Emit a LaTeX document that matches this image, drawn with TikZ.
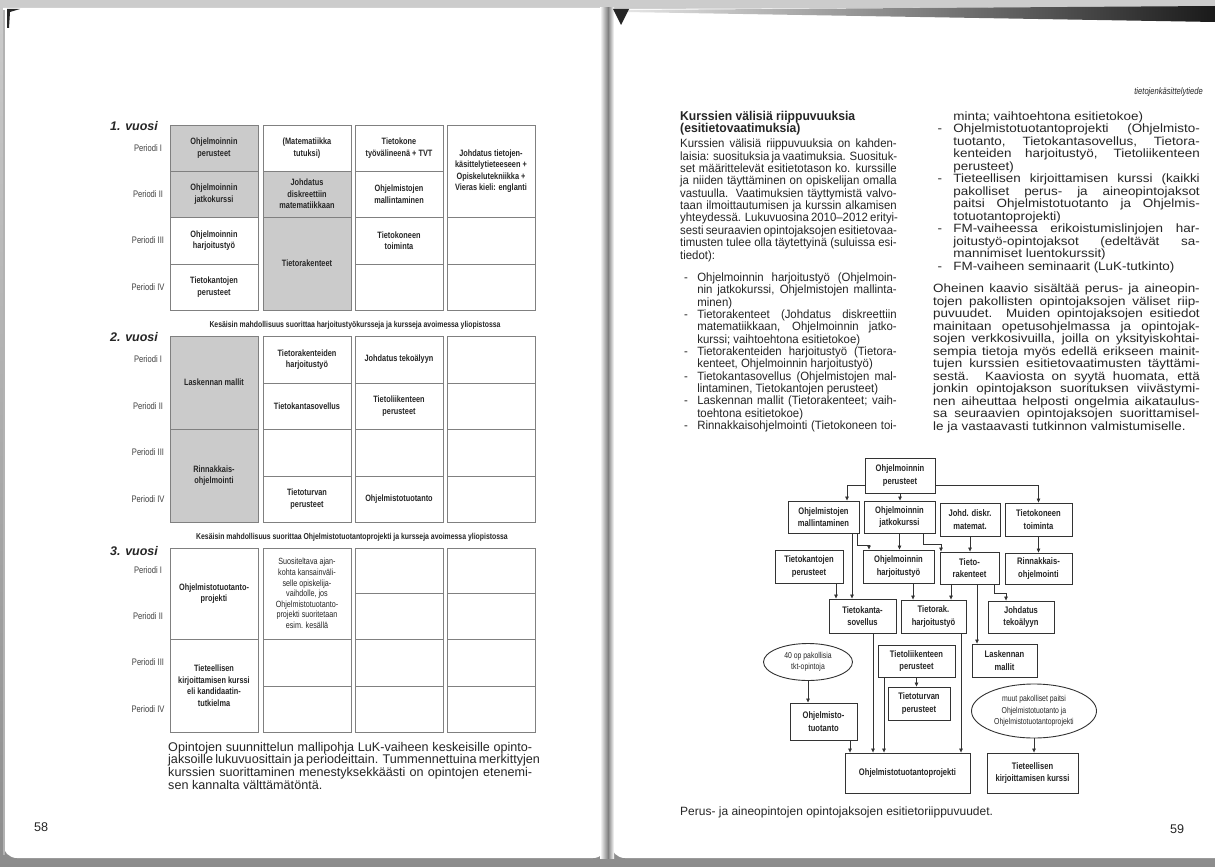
\documentclass[tikz,border=0pt]{standalone}
\usepackage{fontspec}
\setmainfont{Liberation Sans}
\newfontfamily\nrw[FakeStretch=0.8]{Liberation Sans}
\usetikzlibrary{arrows.meta,shapes.geometric}
\definecolor{cellgray}{HTML}{CBCBCB}
\definecolor{ink}{HTML}{262626}
\newlength\xbi \setlength\xbi{18pt}
\newcommand\xJ[1]{\noindent\makebox[\linewidth][s]{#1}\par}
\newcommand\xL[1]{\noindent\makebox[\linewidth][l]{#1}\par}
\newcommand\xBJ[1]{\noindent\makebox[\xbi][l]{\hspace{4pt}-}\makebox[\dimexpr\linewidth-\xbi\relax][s]{#1}\par}
\newcommand\xBL[1]{\noindent\makebox[\xbi][l]{\hspace{4pt}-}\makebox[\dimexpr\linewidth-\xbi\relax][l]{#1}\par}
\newcommand\xIJ[1]{\noindent\hspace*{\xbi}\makebox[\dimexpr\linewidth-\xbi\relax][s]{#1}\par}
\newcommand\xIL[1]{\noindent\hspace*{\xbi}\makebox[\dimexpr\linewidth-\xbi\relax][l]{#1}\par}
\newcommand\xtc[7][]{\node[tcell, fill=#6, minimum height={(#5-#4)*1pt}, #1] (#2) at (#3,{(#4+#5)/2}) {#7};}
\newcommand\xper[3]{\node[perst] (#1) at (148,#2) {Periodi #3};}
\newcommand\xfb[6]{\node[fbox, minimum width=#4pt, minimum height=#5pt] (#1) at (#2,#3) {#6};}
\begin{document}
\begin{tikzpicture}[x=1pt,y=-1pt,
 tcell/.style={draw=black!50, line width=0.7pt, minimum width=88pt, inner sep=1pt, align=center, text=ink, font=\nrw\bfseries\fontsize{9.2}{11.5}\selectfont},
 perst/.style={text=black!75, font=\nrw\fontsize{9.5}{11}\selectfont, inner sep=0},
 yearst/.style={anchor=base west, inner sep=0, text=ink, font=\bfseries\itshape\fontsize{12.5}{14}\selectfont},
 capst/.style={inner sep=0, text=ink, font=\nrw\bfseries\fontsize{8.6}{10}\selectfont},
 fbox/.style={draw=black!80, line width=0.9pt, fill=white, align=center, inner sep=0, text=ink, font=\nrw\bfseries\fontsize{9.5}{12.5}\selectfont},
 fell/.style={ellipse, draw=black!80, line width=0.9pt, fill=white, align=center, inner sep=0, text=ink, font=\nrw\fontsize{8.6}{11.5}\selectfont},
 arr/.style={draw=black!80, line width=0.7pt, -{Triangle[length=4pt,width=3.5pt]}},
 txt/.style={anchor=base west, inner sep=0, text=ink},
]
\useasboundingbox (0,0) rectangle (1215,867);
% ---------- scan background ----------
\shade[top color=black!20, bottom color=black!45] (0,0) rectangle (1215,867);
\fill[white] (3,8) -- (607,8) {[rounded corners=14pt] -- (607,858) -- (3,858)} -- cycle;
\fill[white] (611,9) -- (1215,7) -- (1215,858) {[rounded corners=14pt] -- (611,858)} -- cycle;
\draw[black!30, line width=1.5pt] (4,10) -- (4,855);
\shade[left color=white, right color=black!50] (600,8) rectangle (608,858);
\shade[left color=black!50, right color=white] (608,8) rectangle (614,858);
\shade[left color=black!10, right color=black!90] (625,10) -- (1215,6) -- (1215,22) -- (625,12) -- cycle;
\fill[black!85] (7,9) -- (20,9) -- (10,12) -- (9,28) -- (7,28) -- cycle;
\fill[black!85] (613,9) -- (629,9) -- (621,25) -- cycle;
% ---------- left page: table ----------
\node[yearst] (y1) at (110,130) {1. vuosi};
\xper{p11}{148}{I}\xper{p12}{194}{II}\xper{p13}{240.5}{III}\xper{p14}{287}{IV}
\xtc{a11}{214}{125}{171}{cellgray}{Ohjelmoinnin\\perusteet}
\xtc{a12}{214}{171}{217}{cellgray}{Ohjelmoinnin\\jatkokurssi}
\xtc{a13}{214}{217}{264}{white}{Ohjelmoinnin\\harjoitustyö}
\xtc{a14}{214}{264}{310}{white}{Tietokantojen\\perusteet}
\xtc{a21}{307}{125}{171}{white}{(Matematiikka\\tutuksi)}
\xtc{a22}{307}{171}{217}{cellgray}{Johdatus\\diskreettiin\\matematiikkaan}
\xtc{a23}{307}{217}{310}{cellgray}{Tietorakenteet}
\xtc{a31}{399}{125}{171}{white}{Tietokone\\työvälineenä + TVT}
\xtc{a32}{399}{171}{217}{white}{Ohjelmistojen\\mallintaminen}
\xtc{a33}{399}{217}{264}{white}{Tietokoneen\\toiminta}
\xtc{a34}{399}{264}{310}{white}{}
\xtc{a41}{491}{125}{217}{white}{Johdatus tietojen-\\käsittelytieteeseen +\\Opiskelutekniikka +\\Vieras kieli: englanti}
\xtc{a43}{491}{217}{264}{white}{}
\xtc{a44}{491}{264}{310}{white}{}
\node[capst] (cap1) at (355,325) {Kesäisin mahdollisuus suorittaa harjoitustyökursseja ja kursseja avoimessa yliopistossa};
\node[yearst] (y2) at (110,341) {2. vuosi};
\xper{p21}{359.5}{I}\xper{p22}{406}{II}\xper{p23}{452.5}{III}\xper{p24}{499}{IV}
\xtc{b11}{214}{336}{429}{cellgray}{Laskennan mallit}
\xtc{b13}{214}{429}{522}{cellgray}{Rinnakkais-\\ohjelmointi}
\xtc{b21}{307}{336}{383}{white}{Tietorakenteiden\\harjoitustyö}
\xtc{b22}{307}{383}{429}{white}{Tietokantasovellus}
\xtc{b23}{307}{429}{476}{white}{}
\xtc{b24}{307}{476}{522}{white}{Tietoturvan\\perusteet}
\xtc{b31}{399}{336}{383}{white}{Johdatus tekoälyyn}
\xtc{b32}{399}{383}{429}{white}{Tietoliikenteen\\perusteet}
\xtc{b33}{399}{429}{476}{white}{}
\xtc{b34}{399}{476}{522}{white}{Ohjelmistotuotanto}
\xtc{b41}{491}{336}{383}{white}{}
\xtc{b42}{491}{383}{429}{white}{}
\xtc{b43}{491}{429}{476}{white}{}
\xtc{b44}{491}{476}{522}{white}{}
\node[capst] (cap2) at (352,537) {Kesäisin mahdollisuus suorittaa Ohjelmistotuotantoprojekti ja kursseja avoimessa yliopistossa};
\node[yearst] (y3) at (110,555) {3. vuosi};
\xper{p31}{570.5}{I}\xper{p32}{616}{II}\xper{p33}{662.5}{III}\xper{p34}{709}{IV}
\xtc{c11}{214}{548}{639}{white}{Ohjelmistotuotanto-\\projekti}
\xtc{c13}{214}{639}{732}{white}{Tieteellisen\\kirjoittamisen kurssi\\eli kandidaatin-\\tutkielma}
\xtc[font=\nrw\mdseries\fontsize{9}{10.6}\selectfont]{c21}{307}{548}{639}{white}{Suositeltava ajan-\\kohta kansainväli-\\selle opiskelija-\\vaihdolle, jos\\Ohjelmistotuotanto-\\projekti suoritetaan\\esim. kesällä}
\xtc{c23}{307}{639}{686}{white}{}
\xtc{c24}{307}{686}{732}{white}{}
\xtc{c31}{399}{548}{593}{white}{}
\xtc{c32}{399}{593}{639}{white}{}
\xtc{c33}{399}{639}{686}{white}{}
\xtc{c34}{399}{686}{732}{white}{}
\xtc{c41}{491}{548}{593}{white}{}
\xtc{c42}{491}{593}{639}{white}{}
\xtc{c43}{491}{639}{686}{white}{}
\xtc{c44}{491}{686}{732}{white}{}
\node[txt] (lcap) at (168,751) {\parbox[t]{364pt}{\fontsize{12.6}{11.5}\selectfont\setlength\parskip{0pt}%
\xJ{Opintojen suunnittelun mallipohja LuK-vaiheen keskeisille opinto-}
\xJ{jaksoille lukuvuosittain ja periodeittain. Tummennettuina merkittyjen}
\xJ{kurssien suorittaminen menestyksekkäästi on opintojen etenemi-}
\xL{sen kannalta välttämätöntä.}}};
\node[txt, font=\fontsize{12.6}{14}\selectfont] (pn58) at (34,831) {58};
% ---------- right page: text ----------
\node[anchor=base east, inner sep=0, text=ink, font=\nrw\itshape\fontsize{9.5}{11}\selectfont] (hdr) at (1203,94) {tietojenkäsittelytiede};
\node[txt] (lcol) at (680,120) {\scalebox{0.95}[1]{\parbox[t]{228pt}{\fontsize{12}{13}\selectfont\setlength\parskip{0pt}%
\xL{\bfseries\fontsize{12.8}{13}\selectfont Kurssien välisiä riippuvuuksia}
\xL{\bfseries\fontsize{12.8}{13}\selectfont (esitietovaatimuksia)}
\vspace{2.5pt}\fontsize{12}{12.35}\selectfont
\xJ{Kurssien välisiä riippuvuuksia on kahden-}
\xJ{laisia: suosituksia ja vaatimuksia. Suosituk-}
\xJ{set määrittelevät esitietotason ko. kurssille}
\xJ{ja niiden täyttäminen on opiskelijan omalla}
\xJ{vastuulla. Vaatimuksien täyttymistä valvo-}
\xJ{taan ilmoittautumisen ja kurssin alkamisen}
\xJ{yhteydessä. Lukuvuosina 2010–2012 erityi-}
\xJ{sesti seuraavien opintojaksojen esitietovaa-}
\xJ{timusten tulee olla täytettyinä (suluissa esi-}
\xL{tiedot):}
\vspace{10pt}
\xBJ{Ohjelmoinnin harjoitustyö (Ohjelmoin-}
\xIJ{nin jatkokurssi, Ohjelmistojen mallinta-}
\xIL{minen)}
\xBJ{Tietorakenteet (Johdatus diskreettiin}
\xIJ{matematiikkaan, Ohjelmoinnin jatko-}
\xIL{kurssi; vaihtoehtona esitietokoe)}
\xBJ{Tietorakenteiden harjoitustyö (Tietora-}
\xIL{kenteet, Ohjelmoinnin harjoitustyö)}
\xBJ{Tietokantasovellus (Ohjelmistojen mal-}
\xIL{lintaminen, Tietokantojen perusteet)}
\xBJ{Laskennan mallit (Tietorakenteet; vaih-}
\xIL{toehtona esitietokoe)}
\xBJ{Rinnakkaisohjelmointi (Tietokoneen toi-}}}};
\node[txt] (rcol) at (933,120) {\scalebox{1.12}[1]{\parbox[t]{238pt}{\fontsize{12}{12.5}\selectfont\setlength\parskip{0pt}%
\xIL{minta; vaihtoehtona esitietokoe)}
\xBJ{Ohjelmistotuotantoprojekti (Ohjelmisto-}
\xIJ{tuotanto, Tietokantasovellus, Tietora-}
\xIJ{kenteiden harjoitustyö, Tietoliikenteen}
\xIL{perusteet)}
\xBJ{Tieteellisen kirjoittamisen kurssi (kaikki}
\xIJ{pakolliset perus- ja aineopintojaksot}
\xIJ{paitsi Ohjelmistotuotanto ja Ohjelmis-}
\xIL{totuotantoprojekti)}
\xBJ{FM-vaiheessa erikoistumislinjojen har-}
\xIJ{joitustyö-opintojaksot (edeltävät sa-}
\xIL{mannimiset luentokurssit)}
\xBL{FM-vaiheen seminaarit (LuK-tutkinto)}
\vspace{10pt}
\xJ{Oheinen kaavio sisältää perus- ja aineopin-}
\xJ{tojen pakollisten opintojaksojen väliset riip-}
\xJ{puvuudet. Muiden opintojaksojen esitiedot}
\xJ{mainitaan opetusohjelmassa ja opintojak-}
\xJ{sojen verkkosivuilla, joilla on yksityiskohtai-}
\xJ{sempia tietoja myös edellä erikseen mainit-}
\xJ{tujen kurssien esitietovaatimusten täyttämi-}
\xJ{sestä. Kaaviosta on syytä huomata, että}
\xJ{jonkin opintojakson suorituksen viivästymi-}
\xJ{nen aiheuttaa helposti ongelmia aikataulus-}
\xJ{sa seuraavien opintojaksojen suorittamisel-}
\xL{le ja vastaavasti tutkinnon valmistumiselle.}}}};
% ---------- right page: flowchart ----------
\xfb{pO}{900}{475.5}{70}{35}{Ohjelmoinnin\\perusteet}
\xfb{mal}{823.5}{517}{71}{32}{Ohjelmistojen\\mallintaminen}
\xfb{jat}{899.5}{517}{71}{32}{Ohjelmoinnin\\jatkokurssi}
\xfb{jdm}{970}{519.5}{60}{33}{Johd. diskr.\\matemat.}
\xfb{ttt}{1038.5}{519.5}{67}{33}{Tietokoneen\\toiminta}
\xfb{tkp}{809}{566.5}{68}{33}{Tietokantojen\\perusteet}
\xfb{ohh}{898.5}{566.5}{71}{33}{Ohjelmoinnin\\harjoitustyö}
\xfb{tr}{969.5}{568}{59}{32}{Tieto-\\rakenteet}
\xfb{rin}{1038.5}{568.5}{67}{31}{Rinnakkais-\\ohjelmointi}
\xfb{tks}{862.5}{616}{67}{34}{Tietokanta-\\sovellus}
\xfb{trh}{933.5}{616.5}{65}{33}{Tietorak.\\harjoitustyö}
\xfb{jte}{1021}{617}{66}{32}{Johdatus\\tekoälyyn}
\node[fell, minimum width=89pt, minimum height=37pt] (e40) at (808,662) {40 op pakollisia\\tkt-opintoja};
\xfb{tlp}{916.5}{661}{77}{32}{Tietoliikenteen\\perusteet}
\xfb{lam}{1004.5}{660.5}{65}{33}{Laskennan\\mallit}
\xfb{ttp}{919}{703.5}{62}{33}{Tietoturvan\\perusteet}
\node[fell, minimum width=125pt, minimum height=54pt] (emu) at (1034,711) {muut pakolliset paitsi\\Ohjelmistotuotanto ja\\Ohjelmistotuotantoprojekti};
\xfb{ot}{823.5}{721.5}{67}{37}{Ohjelmisto-\\tuotanto}
\xfb{otp}{907.5}{773}{125}{40}{Ohjelmistotuotantoprojekti}
\xfb{tkk}{1032.5}{773}{91}{40}{Tieteellisen\\kirjoittamisen kurssi}
\draw[arr] ([yshift=-10pt]pO.west) -| ([xshift=23.5pt]mal.north);
\draw[arr] ([yshift=-10pt]pO.east) -| (ttt.north);
\draw[arr] (pO.south) -- (pO.south |- jat.north);
\draw[arr] ([xshift=34pt]mal.south) -- ++(0,-12pt) -| ([xshift=-29.5pt]ohh.north);
\draw[arr] ([xshift=28.5pt]mal.south) -- ([xshift=-10.5pt]tks.north);
\draw[arr] (jat.south) -- (jat.south |- ohh.north);
\draw[arr] ([xshift=23.5pt]jat.south) -- ++(0,-11pt) -| ([xshift=-28.5pt]tr.north);
\draw[arr] (jdm.south) -- (jdm.south |- tr.north);
\draw[arr] (ttt.south) -- (ttt.south |- rin.north);
\draw[arr] ([xshift=27pt]tkp.south) -- ([xshift=-26.5pt]tks.north);
\draw[arr] ([xshift=14.5pt]ohh.south) -- ([xshift=-20.5pt]trh.north);
\draw[arr] ([xshift=-18.5pt]tr.south) -- ([xshift=17.5pt]trh.north);
\draw[arr] ([xshift=7.5pt]tr.south) -- ([xshift=-27.5pt]lam.north);
\draw[arr] ([xshift=24.5pt]tr.south) -- ++(0,-9pt) -| ([xshift=-15pt]jte.north);
\draw[arr] ([xshift=10.5pt]tks.south) -- ([xshift=-34.5pt]otp.north);
\draw[arr] ([xshift=27.5pt]trh.south) -- ([xshift=53.5pt]otp.north);
\draw[arr] (tlp.south) -- (tlp.south |- ttp.north);
\draw[arr] ([xshift=-32.5pt]tlp.south) -- ([xshift=-23.5pt]otp.north);
\draw[arr] (e40.south) -- (e40.south |- ot.north);
\draw[arr] ([xshift=26.5pt]ot.south) -- ([xshift=-57.5pt]otp.north);
\draw[arr] (emu.south) -- (emu.south |- tkk.north);
\node[txt, font=\fontsize{12}{14}\selectfont] (rcap) at (680,815) {Perus- ja aineopintojen opintojaksojen esitietoriippuvuudet.};
\node[txt, font=\fontsize{12.6}{14}\selectfont] (pn59) at (1170,833) {59};
\end{tikzpicture}
\end{document}
